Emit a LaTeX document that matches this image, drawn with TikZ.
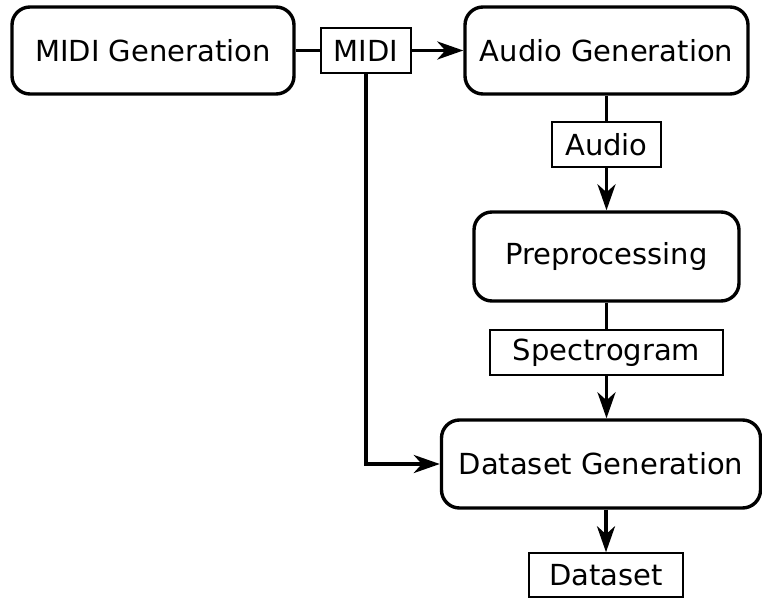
\documentclass[tikz,border=0pt]{standalone}
\usepackage{fontspec}
\setmainfont{DejaVu Sans}
\usetikzlibrary{arrows.meta}
\begin{document}
\begin{tikzpicture}[x=1pt,y=-1pt,
  every node/.style={font=\fontsize{29}{34}\selectfont, inner sep=0pt},
  stage/.style={draw, line width=3.4pt, rounded corners=18pt},
  lab/.style={draw, line width=1.5pt, fill=white},
  conn/.style={line width=3.8pt},
  arr/.style={conn, -{Stealth[length=26pt, width=18pt, inset=8pt]}}]
\useasboundingbox (0,0) rectangle (762,599);
\node[stage, minimum width=282pt, minimum height=87pt] (mg) at (153,50.5) {MIDI Generation};
\node[lab, minimum width=90pt, minimum height=45pt] (midi) at (366,50.5) {MIDI};
\node[stage, minimum width=283pt, minimum height=87pt] (ag) at (606.5,50.5) {Audio Generation};
\node[lab, minimum width=109pt, minimum height=45pt] (audio) at (606.5,144.5) {Audio};
\node[stage, minimum width=265pt, minimum height=89pt] (pp) at (606.5,256.5) {Preprocessing};
\node[lab, minimum width=233pt, minimum height=45pt] (spec) at (606.5,352.5) {Spectrogram};
\node[stage, minimum width=319pt, minimum height=88pt] (dg) at (601,464) {Dataset Generation};
\node[lab, minimum width=154pt, minimum height=44pt] (ds) at (606,575) {Dataset};
\coordinate (corner) at (366,464);
\draw[conn] (mg.east) -- (midi.west);
\draw[arr] (midi.east) -- (ag.west);
\draw[conn] (ag.south) -- (audio.north);
\draw[arr] (audio.south) -- (pp.north);
\draw[conn] (pp.south) -- (spec.north);
\draw[arr] (spec.south) -- (spec.south |- dg.north);
\draw[arr] (midi.south) -- (corner) -- (dg.west);
\draw[arr] (ds.north |- dg.south) -- (ds.north);
\end{tikzpicture}
\end{document}
